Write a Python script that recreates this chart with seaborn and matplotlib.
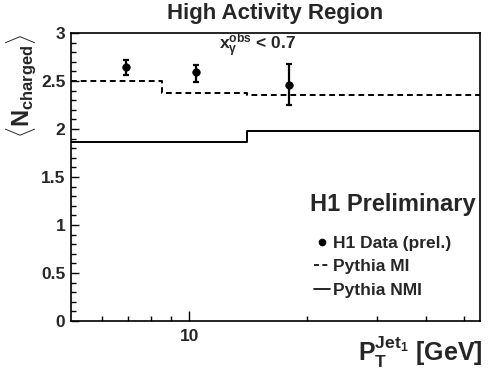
import numpy as np
import pandas as pd
import matplotlib
matplotlib.use("Agg")
import matplotlib.pyplot as plt
from matplotlib.ticker import MultipleLocator, FixedLocator, NullFormatter, FixedFormatter, FuncFormatter
from matplotlib.lines import Line2D
import seaborn as sns

# ---- data ----
bin_edges = [5.0, 8.5, 14.0, 55.0]
mi_values = [2.50, 2.378, 2.357]
nmi_values = [1.861, 1.868, 1.982]
data_x = [6.9, 10.4, 17.9]
data_y = [2.65, 2.59, 2.46]
data_err_lo = [0.09, 0.10, 0.21]
data_err_hi = [0.07, 0.08, 0.22]
x_ticks_major = [10]
x_ticks_minor = [6, 7, 8, 9, 20, 30, 40, 50]

sns.set_theme(style="white")
plt.rcParams['font.family'] = ['Liberation Sans', 'DejaVu Sans']
plt.rcParams['font.weight'] = 'bold'
plt.rcParams['mathtext.fontset'] = 'custom'
plt.rcParams['mathtext.rm'] = 'Liberation Sans:bold'
plt.rcParams['mathtext.bf'] = 'Liberation Sans:bold'
plt.rcParams['mathtext.it'] = 'Liberation Sans:bold'

fig = plt.figure(figsize=(4.91, 3.74), dpi=100)
ax = fig.add_axes([71/491, 53/374, 409/491, 288/374])

def step_df(edges, vals):
    xs = list(edges)
    ys = list(vals) + [vals[-1]]
    return pd.DataFrame({"x": xs, "y": ys})

mi_df = step_df(bin_edges, mi_values)
nmi_df = step_df(bin_edges, nmi_values)

sns.lineplot(data=mi_df, x="x", y="y", ax=ax, drawstyle="steps-post",
             color="black", linestyle=(0, (3, 2)), linewidth=1.4, estimator=None, sort=False)
sns.lineplot(data=nmi_df, x="x", y="y", ax=ax, drawstyle="steps-post",
             color="black", linewidth=1.4, estimator=None, sort=False)

ax.errorbar(data_x, data_y, yerr=[data_err_lo, data_err_hi], fmt="none",
            ecolor="black", elinewidth=1.6, capsize=2.5, capthick=1.6)
sns.scatterplot(x=data_x, y=data_y, ax=ax, color="black", s=30, edgecolor="black", zorder=5)

ax.set_xscale("log")
ax.set_xlim(5, 55)
ax.set_ylim(0, 3)
ax.xaxis.set_major_locator(FixedLocator(x_ticks_major))
ax.xaxis.set_major_formatter(FixedFormatter([str(v) for v in x_ticks_major]))
ax.xaxis.set_minor_locator(FixedLocator(x_ticks_minor))
ax.xaxis.set_minor_formatter(NullFormatter())
ax.yaxis.set_major_locator(MultipleLocator(0.5))
ax.yaxis.set_minor_locator(MultipleLocator(0.1))
ax.yaxis.set_major_formatter(FuncFormatter(lambda v, p: f"{v:g}"))
ax.tick_params(which="both", direction="in", color="black", labelsize=12.5, width=1,
               bottom=True, left=True, top=False, right=False)
ax.tick_params(which="major", length=6)
ax.tick_params(which="minor", length=3.5)
ax.tick_params(axis="x", which="major", length=7, pad=6)
ax.tick_params(axis="y", pad=4)
for lab in ax.get_xticklabels() + ax.get_yticklabels():
    lab.set_fontweight("bold")
for sp in ax.spines.values():
    sp.set_color("black")
    sp.set_linewidth(1.2)

ax.set_xlabel("")
ax.set_ylabel("")
fig.text((71+480)/2/491, 1 - 14/374, "High Activity Region", ha="center", va="center",
         fontsize=16, fontweight="bold")
fig.text(22/491, 1 - 86/374, r"$\langle \mathbf{N}_{\mathbf{charged}} \rangle$",
         rotation=90, ha="center", va="center", fontsize=17)
fig.text(420/491, 1 - 352/374, r"$\mathbf{P}_\mathbf{T}^{\mathbf{Jet}_\mathbf{1}}$ [GeV]",
         ha="center", va="center", fontsize=18, fontweight="bold")
fig.text(258/491, 1 - 46/374, r"$\mathbf{x}_\gamma^{\mathbf{obs}}$ < 0.7",
         ha="center", va="center", fontsize=12.5, fontweight="bold")
fig.text(393/491, 1 - 205/374, "H1 Preliminary", ha="center", va="center",
         fontsize=17, fontweight="bold")

# legend
handles = [
    Line2D([], [], color="black", marker="o", markersize=4.5, linestyle="none"),
    Line2D([], [], color="black", linestyle=(0, (3, 2)), linewidth=1.2),
    Line2D([], [], color="black", linewidth=1.2),
]
labels = ["H1 Data (prel.)", "Pythia MI", "Pythia NMI"]
leg = ax.legend(handles, labels, loc="upper left", bbox_to_anchor=(314/491, 1 - 236/374),
                bbox_transform=fig.transFigure, frameon=False, fontsize=12.5,
                handlelength=0.9, handletextpad=0.2, labelspacing=0.47, borderpad=0,
                borderaxespad=0)
for t in leg.get_texts():
    t.set_fontweight("bold")

fig.savefig("out.png", dpi=100)
